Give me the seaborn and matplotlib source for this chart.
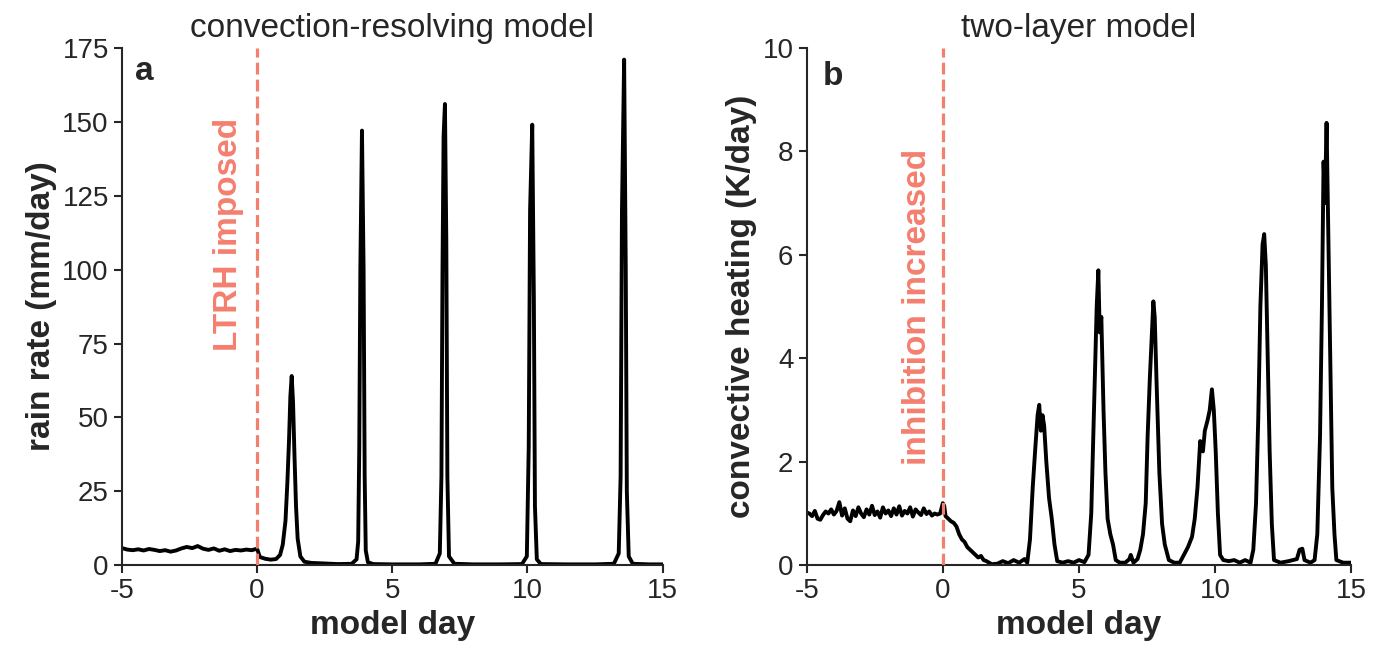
import numpy as np
import pandas as pd
import seaborn as sns
import matplotlib.pyplot as plt

# panel a: convection-resolving model, rain rate (mm/day)
a_day = [-5.0, -4.8, -4.6, -4.4, -4.2, -4.0, -3.8, -3.6, -3.4, -3.2,
         -3.0, -2.8, -2.6, -2.4, -2.2, -2.0, -1.8, -1.6, -1.4, -1.2,
         -1.0, -0.8, -0.6, -0.4, -0.2, 0.0,
         0.1, 0.3, 0.5, 0.7, 0.85, 0.95, 1.05, 1.12, 1.18, 1.23,
         1.28, 1.33, 1.38, 1.44, 1.5, 1.6, 1.75, 2.0, 2.5, 3.0,
         3.5, 3.68, 3.74, 3.78, 3.82, 3.88, 3.94, 3.98, 4.02, 4.1,
         4.3, 5.0, 6.0, 6.6, 6.76, 6.82, 6.86, 6.9, 6.95, 7.0,
         7.04, 7.1, 7.3, 8.0, 9.0, 9.8, 9.98, 10.05, 10.1, 10.18,
         10.24, 10.28, 10.35, 10.5, 11.5, 12.5, 13.2, 13.38, 13.45, 13.5,
         13.58, 13.64, 13.68, 13.75, 13.9, 14.5, 15.0]
a_rain = [5.8, 5.3, 5.1, 5.4, 5.0, 5.5, 5.2, 4.8, 5.1, 4.6,
          5.0, 5.7, 6.2, 5.8, 6.5, 5.6, 5.2, 5.7, 4.9, 5.4,
          4.8, 5.2, 5.0, 5.3, 5.1, 5.6,
          2.8, 2.2, 1.9, 2.1, 3.5, 7.0, 15.0, 28.0, 42.0, 57.0,
          64.0, 55.0, 38.0, 20.0, 9.0, 3.0, 1.2, 0.8, 0.6, 0.4,
          0.5, 2.0, 8.0, 40.0, 100.0, 147.0, 100.0, 30.0, 5.0, 1.0,
          0.4, 0.3, 0.3, 0.5, 4.0, 30.0, 100.0, 145.0, 156.0, 110.0,
          30.0, 3.0, 0.5, 0.3, 0.3, 0.4, 3.0, 40.0, 120.0, 149.0,
          90.0, 20.0, 2.0, 0.4, 0.3, 0.3, 0.5, 4.0, 30.0, 120.0,
          171.0, 100.0, 25.0, 3.0, 0.5, 0.3, 0.3]

# panel b: two-layer model, convective heating (K/day)
b_day = [-5.0, -4.9, -4.8, -4.7, -4.6, -4.5, -4.4, -4.3, -4.2, -4.1,
         -4.0, -3.9, -3.8, -3.7, -3.6, -3.5, -3.4, -3.3, -3.2, -3.1,
         -3.0, -2.9, -2.8, -2.7, -2.6, -2.5, -2.4, -2.3, -2.2, -2.1,
         -2.0, -1.9, -1.8, -1.7, -1.6, -1.5, -1.4, -1.3, -1.2, -1.1,
         -1.0, -0.9, -0.8, -0.7, -0.6, -0.5, -0.4, -0.3, -0.2, -0.1,
         0.0,
         0.05, 0.1, 0.2, 0.3, 0.4, 0.5, 0.6, 0.7, 0.8, 0.9,
         1.0, 1.1, 1.2, 1.3, 1.4, 1.5, 1.6, 1.7, 1.8, 2.0,
         2.2, 2.4, 2.6, 2.8, 3.0, 3.1, 3.2, 3.3, 3.4, 3.48,
         3.54, 3.6, 3.66, 3.72, 3.8, 3.9, 4.0, 4.1, 4.2, 4.4,
         4.6, 4.8, 5.0, 5.2, 5.35, 5.45, 5.55, 5.65, 5.71, 5.76,
         5.82, 5.9, 5.97, 6.05, 6.15, 6.25, 6.35, 6.5, 6.7, 6.85,
         6.9, 7.0, 7.15, 7.25, 7.35, 7.45, 7.52, 7.6, 7.68, 7.73,
         7.78, 7.85, 7.95, 8.05, 8.15, 8.3, 8.5, 8.7, 8.85, 9.0,
         9.15, 9.25, 9.35, 9.45, 9.55, 9.62, 9.72, 9.8, 9.88, 9.95,
         10.02, 10.1, 10.18, 10.3, 10.5, 10.7, 10.9, 11.1, 11.3, 11.4,
         11.5, 11.58, 11.66, 11.74, 11.8, 11.86, 11.93, 12.0, 12.08, 12.16,
         12.4, 12.7, 13.0, 13.1, 13.2, 13.28, 13.5, 13.65, 13.75, 13.85,
         13.92, 13.98, 14.03, 14.09, 14.15, 14.22, 14.3, 14.38, 14.45, 14.7,
         15.0]
b_heat = [1.02, 1.0, 0.95, 1.05, 0.9, 0.88, 0.97, 1.04, 1.0, 1.08,
          0.98, 1.05, 1.22, 0.96, 1.1, 0.9, 0.85, 1.06, 0.95, 1.12,
          1.0, 0.93, 1.08, 0.98, 1.15, 0.97, 1.04, 0.92, 1.12, 1.0,
          1.06, 0.95, 1.1, 0.98, 1.14, 0.96, 1.05, 1.0, 1.12, 0.94,
          1.08, 1.02, 0.97, 1.1, 0.99, 1.04, 0.96, 1.0, 0.98, 1.0,
          1.2,
          1.15, 0.95, 0.9, 0.85, 0.82, 0.75, 0.6, 0.5, 0.45, 0.35,
          0.3, 0.25, 0.2, 0.15, 0.18, 0.1, 0.08, 0.05, 0.02, 0.03,
          0.08, 0.04, 0.1, 0.05, 0.12, 0.05, 0.5, 1.5, 2.3, 2.9,
          3.1, 2.6, 2.9, 2.7, 2.0, 1.3, 0.9, 0.4, 0.08, 0.05,
          0.08, 0.05, 0.1, 0.06, 0.2, 1.0, 3.0, 5.0, 5.7, 4.5,
          4.8, 3.0, 1.8, 0.9, 0.6, 0.4, 0.1, 0.05, 0.05, 0.12,
          0.2, 0.05, 0.12, 0.3, 0.6, 1.2, 2.5, 3.6, 4.5, 5.1,
          4.8, 3.5, 1.8, 0.8, 0.4, 0.1, 0.05, 0.05, 0.2, 0.35,
          0.55, 0.9, 1.5, 2.4, 2.2, 2.6, 2.8, 3.0, 3.4, 3.0,
          2.2, 1.0, 0.2, 0.1, 0.08, 0.1, 0.05, 0.1, 0.05, 0.3,
          1.2, 2.8, 5.0, 6.2, 6.4, 5.8, 4.0, 2.2, 0.8, 0.1,
          0.05, 0.08, 0.12, 0.3, 0.32, 0.1, 0.05, 0.1, 0.6, 2.5,
          5.0, 7.8, 7.0, 8.55, 6.5, 4.0, 1.5, 0.6, 0.1, 0.05,
          0.05]

df_a = pd.DataFrame({'day': a_day, 'rain': a_rain})
df_b = pd.DataFrame({'day': b_day, 'heat': b_heat})

sns.set_style('ticks')
plt.rcParams['font.family'] = ['Liberation Sans', 'DejaVu Sans']
plt.rcParams['axes.unicode_minus'] = False
plt.rcParams['axes.linewidth'] = 1.5
plt.rcParams['xtick.major.width'] = 1.5
plt.rcParams['ytick.major.width'] = 1.5
plt.rcParams['xtick.major.size'] = 6
plt.rcParams['ytick.major.size'] = 6

red = '#F47F6F'

fig = plt.figure(figsize=(13.86, 6.55), dpi=100)
ax1 = fig.add_axes([0.088, 0.137, 0.390, 0.790])
ax2 = fig.add_axes([0.582, 0.137, 0.393, 0.790])

# panel a
sns.lineplot(data=df_a, x='day', y='rain', ax=ax1, color='black', linewidth=2.8, estimator=None)
ax1.axvline(0, color=red, linestyle='--', linewidth=2.3, zorder=5)
ax1.text(-1.04, 112, 'LTRH imposed', rotation=90, color=red, fontsize=24,
         fontweight='bold', ha='center', va='center')
ax1.text(0.025, 0.955, 'a', transform=ax1.transAxes, fontsize=24, fontweight='bold',
         ha='left', va='center', color='#262626')
ax1.set_xlim(-5, 15)
ax1.set_ylim(0, 175)
ax1.set_xticks([-5, 0, 5, 10, 15])
ax1.set_yticks([0, 25, 50, 75, 100, 125, 150, 175])
ax1.set_title('convection-resolving model', fontsize=24, pad=8)
ax1.set_xlabel('model day', fontsize=24, fontweight='bold')
ax1.set_ylabel('rain rate (mm/day)', fontsize=24, fontweight='bold')

# panel b
sns.lineplot(data=df_b, x='day', y='heat', ax=ax2, color='black', linewidth=2.8, estimator=None)
ax2.axvline(0, color=red, linestyle='--', linewidth=2.3, zorder=5)
ax2.text(-0.94, 5.0, 'inhibition increased', rotation=90, color=red, fontsize=24,
         fontweight='bold', ha='center', va='center')
ax2.text(0.03, 0.945, 'b', transform=ax2.transAxes, fontsize=24, fontweight='bold',
         ha='left', va='center', color='#262626')
ax2.set_xlim(-5, 15)
ax2.set_ylim(0, 10)
ax2.set_xticks([-5, 0, 5, 10, 15])
ax2.set_yticks([0, 2, 4, 6, 8, 10])
ax2.set_title('two-layer model', fontsize=24, pad=8)
ax2.set_xlabel('model day', fontsize=24, fontweight='bold')
ax2.set_ylabel('convective heating (K/day)', fontsize=24, fontweight='bold')

for ax in (ax1, ax2):
    ax.tick_params(labelsize=20)
    sns.despine(ax=ax)

fig.savefig('out.png', dpi=100)
